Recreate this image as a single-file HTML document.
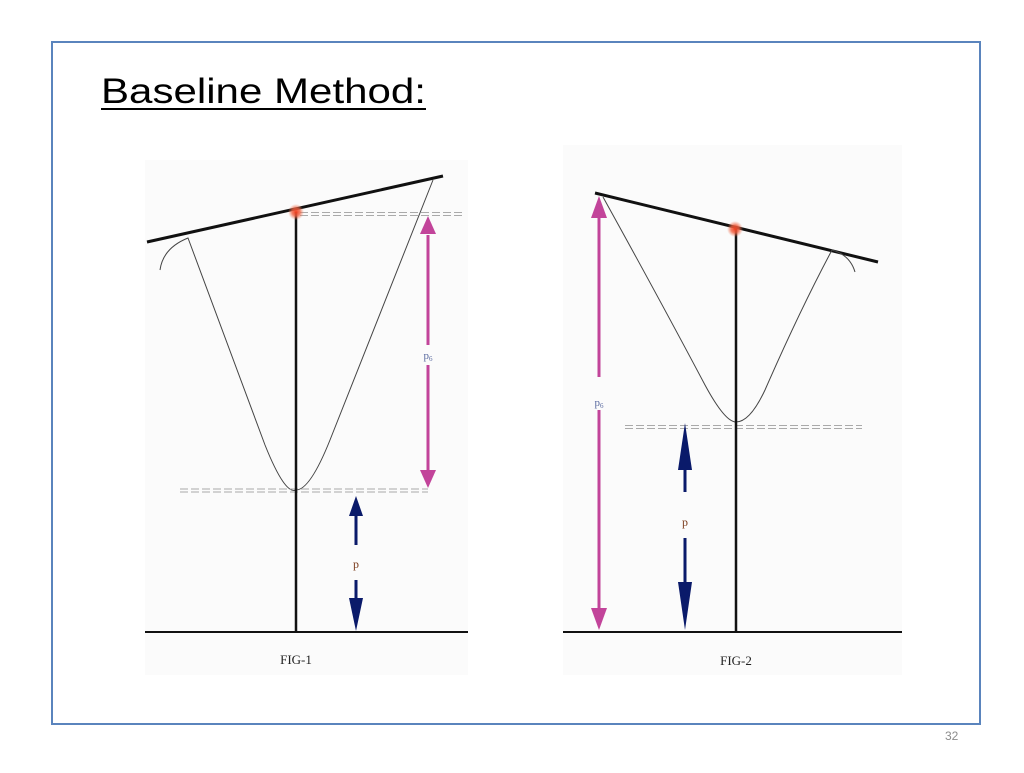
<!DOCTYPE html>
<html><head><meta charset="utf-8"><style>
body{margin:0;width:1024px;height:768px;background:#fff;overflow:hidden;font-family:"Liberation Sans",sans-serif;}
</style></head><body>
<svg width="1024" height="768" viewBox="0 0 1024 768" xmlns="http://www.w3.org/2000/svg">
<defs>
<radialGradient id="g"><stop offset="0" stop-color="#f04020"/><stop offset="0.5" stop-color="#f06040" stop-opacity="0.8"/><stop offset="1" stop-color="#f08060" stop-opacity="0"/></radialGradient>
</defs>
<rect x="52" y="42" width="928" height="682" fill="none" stroke="#5a84bd" stroke-width="2"/>
<text x="101" y="103" font-size="35" fill="#000" textLength="325" lengthAdjust="spacingAndGlyphs">Baseline Method:</text>
<rect x="101" y="108" width="325" height="2" fill="#000"/>
<text x="945" y="740" font-size="12" fill="#8c8c8c">32</text>

<!-- FIG 1 -->
<rect x="145" y="160" width="323" height="515" fill="#fbfbfb"/>
<line x1="147" y1="242" x2="443" y2="176" stroke="#111" stroke-width="3"/>
<path d="M160 270 Q163 248 188 238 L265 445 Q285 495 296 490 Q310 490 330 440 Q370 340 433 180" fill="none" stroke="#444" stroke-width="1"/>
<g stroke="#aaa" stroke-width="1" stroke-dasharray="8,3">
<line x1="300" y1="212.5" x2="462" y2="212.5"/><line x1="300" y1="215.5" x2="462" y2="215.5"/>
<line x1="180" y1="489" x2="428" y2="489"/><line x1="180" y1="492" x2="428" y2="492"/>
</g>
<line x1="296" y1="212" x2="296" y2="632" stroke="#111" stroke-width="2.5"/>
<line x1="145" y1="632" x2="468" y2="632" stroke="#111" stroke-width="2"/>
<circle cx="296" cy="212" r="8" fill="url(#g)"/>
<line x1="428" y1="235" x2="428" y2="345" stroke="#c2449a" stroke-width="3"/>
<line x1="428" y1="365" x2="428" y2="470" stroke="#c2449a" stroke-width="3"/>
<polygon points="428,216 420,234 436,234" fill="#c2449a"/>
<polygon points="428,488 420,470 436,470" fill="#c2449a"/>
<text x="428" y="359" font-family="Liberation Serif,serif" font-size="11" fill="#5a6aa0" text-anchor="middle">p<tspan font-size="7" dy="2">6</tspan></text>
<line x1="356" y1="515" x2="356" y2="545" stroke="#0a1a6a" stroke-width="3"/>
<polygon points="356,496 349,516 363,516" fill="#0a1a6a"/>
<line x1="356" y1="580" x2="356" y2="610" stroke="#0a1a6a" stroke-width="3"/>
<polygon points="356,631 349,598 363,598" fill="#0a1a6a"/>
<text x="356" y="568" font-family="Liberation Serif,serif" font-size="12" fill="#7a3a1a" text-anchor="middle">p</text>
<text x="296" y="664" font-family="Liberation Serif,serif" font-size="13" fill="#222" text-anchor="middle">FIG-1</text>

<!-- FIG 2 -->
<rect x="563" y="145" width="339" height="530" fill="#fbfbfb"/>
<line x1="595" y1="193" x2="878" y2="262" stroke="#111" stroke-width="3"/>
<path d="M603 197 Q660 300 705 385 Q725 422 736 422 Q750 422 765 390 Q800 310 832 250 Q850 255 855 272" fill="none" stroke="#444" stroke-width="1"/>
<g stroke="#aaa" stroke-width="1" stroke-dasharray="8,3">
<line x1="625" y1="425.5" x2="862" y2="425.5"/><line x1="625" y1="428.5" x2="862" y2="428.5"/>
</g>
<line x1="736" y1="229" x2="736" y2="632" stroke="#111" stroke-width="2.5"/>
<line x1="563" y1="632" x2="902" y2="632" stroke="#111" stroke-width="2"/>
<circle cx="735" cy="229" r="8" fill="url(#g)"/>
<line x1="599" y1="215" x2="599" y2="377" stroke="#c2449a" stroke-width="3"/>
<line x1="599" y1="410" x2="599" y2="612" stroke="#c2449a" stroke-width="3"/>
<polygon points="599,196 591,218 607,218" fill="#c2449a"/>
<polygon points="599,630 591,608 607,608" fill="#c2449a"/>
<text x="599" y="406" font-family="Liberation Serif,serif" font-size="11" fill="#5a6aa0" text-anchor="middle">p<tspan font-size="7" dy="2">6</tspan></text>
<line x1="685" y1="445" x2="685" y2="492" stroke="#0a1a6a" stroke-width="3"/>
<polygon points="685,423 678,470 692,470" fill="#0a1a6a"/>
<line x1="685" y1="538" x2="685" y2="590" stroke="#0a1a6a" stroke-width="3"/>
<polygon points="685,630 678,582 692,582" fill="#0a1a6a"/>
<text x="685" y="526" font-family="Liberation Serif,serif" font-size="12" fill="#7a3a1a" text-anchor="middle">p</text>
<text x="736" y="665" font-family="Liberation Serif,serif" font-size="13" fill="#222" text-anchor="middle">FIG-2</text>
</svg>
</body></html>
